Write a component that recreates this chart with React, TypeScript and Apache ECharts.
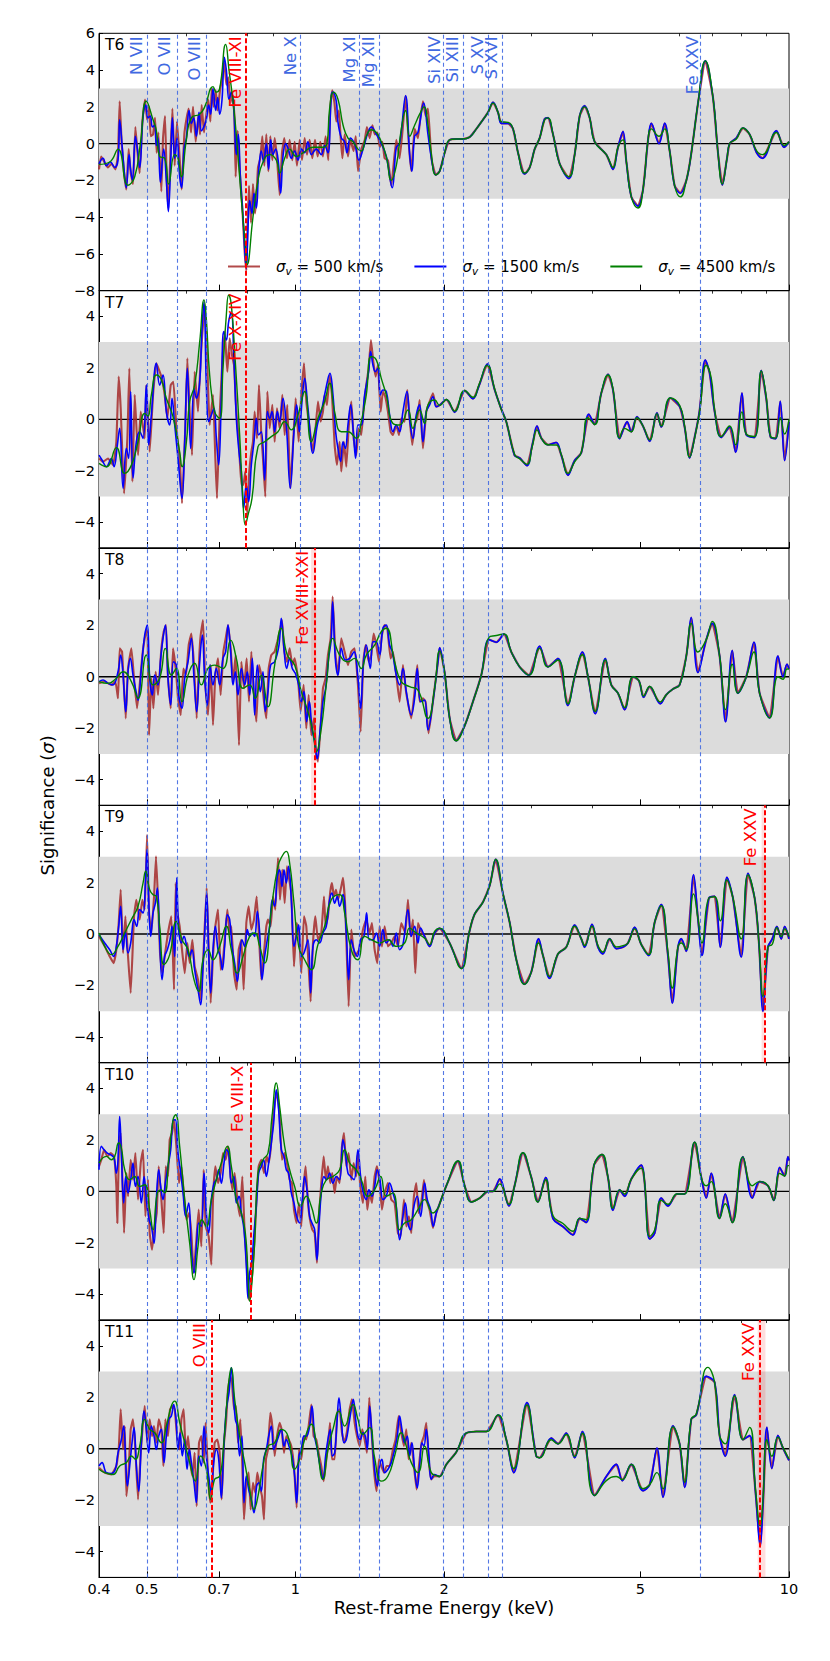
import React, { useEffect, useRef } from 'react';
import * as echarts from 'echarts';

const FONT = 'DejaVu Sans';
const E_MIN = 0.4;
const E_MAX = 10;
const majorTicks = [0.4, 0.5, 0.7, 1, 2, 5, 10];
const minorTicks = [0.6, 0.8, 0.9, 3, 4, 6, 7, 8, 9];
const lineEnergies = [0.5, 0.569, 0.655, 1.022, 1.35, 1.472, 2.004, 2.18, 2.455, 2.62, 6.68];
const lineNames = ['N VII', 'O VII', 'O VIII', 'Ne X', 'Mg XI', 'Mg XII', 'Si XIV', 'Si XIII', 'S XV', 'S XVI', 'Fe XXV'];
const panelNames = ['T6', 'T7', 'T8', 'T9', 'T10', 'T11'];
const yMin = [-8, -5, -5, -5, -5, -5];
const yMax = [6, 5, 5, 5, 5, 5];
const yTicksT6 = [-8, -6, -4, -2, 0, 2, 4, 6];
const yTicksOther = [-4, -2, 0, 2, 4];
const seriesNames = ['σv = 500 km/s', 'σv = 1500 km/s', 'σv = 4500 km/s'];
const redLines: { e: number; name: string; band?: number[] }[][] = [
  [{ e: 0.8015, name: 'Fe VIII-XI' }],
  [{ e: 0.799, name: 'Fe X-XIV' }],
  [{ e: 1.094, name: 'Fe XVIII-XXI', band: [1.076, 1.102] }],
  [{ e: 8.855, name: 'Fe XXV', band: [8.8, 8.92] }],
  [{ e: 0.808, name: 'Fe VIII-X' }],
  [{ e: 0.676, name: 'O VIII' }, { e: 8.75, name: 'Fe XXV', band: [8.64, 8.96] }],
];

// ---------------- T6 ----------------
const t6Green = [[0.4,-1.13],[0.4205,-1.0],[0.4371,-0.3],[0.458,-2.27],[0.4725,-1.8],[0.4851,0.0],[0.4989,2.3],[0.5147,1.3],[0.5227,0.7],[0.5309,-0.7],[0.5434,-0.8],[0.5537,-2.2],[0.5694,-0.6],[0.5783,-0.8],[0.5873,-1.8],[0.6012,0.2],[0.6154,1.4],[0.6398,1.6],[0.6549,2.0],[0.6809,3.1],[0.6915,2.8],[0.7024,3.0],[0.7223,5.4],[0.7336,4.0],[0.7497,2.0],[0.7615,0.0],[0.777,-3.0],[0.7929,-5.8],[0.7978,-6.6],[0.8204,-4.0],[0.8398,-2.0],[0.8596,-1.0],[0.8868,-0.6],[0.9148,-0.9],[0.9291,-1.6],[0.951,-0.8],[0.9734,-0.3],[1.0042,-0.7],[1.0359,-0.5],[1.0853,-0.2],[1.1371,-0.2],[1.1585,0.0],[1.173,1.9],[1.195,2.8],[1.22,2.4],[1.249,1.0],[1.278,0.3],[1.308,0.1],[1.339,-0.3],[1.36,-0.4],[1.392,0.4],[1.425,0.75],[1.459,0.6],[1.493,0.1],[1.528,-0.7],[1.564,-2.0],[1.601,-1.2],[1.639,0.8],[1.672,1.8],[1.704,0.4],[1.744,1.0],[1.785,1.6],[1.822,2.0],[1.856,1.0],[1.886,-0.6],[1.924,-1.7]];
const t6Blue = [[0.4,-1.1],[0.4076,-0.8],[0.414,-1.2],[0.4218,-1.0],[0.4304,-1.3],[0.4371,-0.9],[0.4405,1.3],[0.4461,-0.3],[0.451,-1.8],[0.4544,-2.4],[0.4601,-0.6],[0.463,-1.3],[0.4674,-2.0],[0.474,0.4],[0.4784,-0.3],[0.4836,-1.3],[0.4912,1.5],[0.4973,2.1],[0.5028,1.4],[0.5083,1.5],[0.5131,0.9],[0.5187,1.0],[0.5227,-0.1],[0.5268,0.3],[0.5326,-2.1],[0.5409,-0.3],[0.5477,-2.0],[0.5528,-3.7],[0.5589,-1.0],[0.5633,1.4],[0.5694,-0.8],[0.5756,0.3],[0.5828,-1.8],[0.5883,-2.4],[0.5947,-0.3],[0.6012,0.3],[0.6088,1.8],[0.6154,1.1],[0.6221,1.4],[0.63,0.4],[0.6378,1.7],[0.6448,0.7],[0.6519,0.9],[0.66,1.3],[0.6672,2.1],[0.6735,1.6],[0.6809,3.0],[0.6894,1.8],[0.6958,2.5],[0.7024,1.6],[0.7101,2.4],[0.7178,4.7],[0.7245,4.0],[0.7336,2.4],[0.7416,2.8],[0.7497,2.0],[0.7591,-0.6],[0.7662,0.5],[0.7734,-1.8],[0.7831,-4.0],[0.7904,-6.0],[0.7953,-6.8],[0.8015,-4.6],[0.8078,-3.1],[0.8166,-3.8],[0.8243,-2.7],[0.8333,-3.5],[0.8424,-1.5],[0.8529,-0.4],[0.8623,-1.0],[0.8731,0.0],[0.8827,-1.4],[0.891,0.2],[0.9006,-0.6],[0.9119,-0.3],[0.9234,-1.0],[0.9334,-2.7],[0.9436,-0.7],[0.9554,0.0],[0.9674,-0.3],[0.981,-0.8],[0.9964,-0.4],[1.012,-0.9],[1.0279,-0.3],[1.044,-0.5],[1.0603,0.1],[1.0769,-0.6],[1.1023,-0.3],[1.1283,-0.6],[1.146,-0.1],[1.164,-0.5],[1.1822,2.6],[1.191,2.8],[1.21,2.3],[1.219,1.2],[1.239,0.3],[1.258,0.1],[1.272,-0.5],[1.292,0.3],[1.318,0.0],[1.345,-0.9],[1.371,-0.3],[1.403,0.6],[1.425,0.9],[1.459,0.5],[1.493,0.0],[1.528,-0.7],[1.571,-2.4],[1.601,-0.2],[1.626,0.0],[1.672,2.6],[1.704,-0.6],[1.722,-1.5],[1.744,0.4],[1.771,0.6],[1.819,2.2],[1.856,0.5],[1.886,-0.8],[1.924,-1.7]];
const t6Red = [[0.4,-1.4],[0.404,-0.7],[0.41,-1.0],[0.417,-1.3],[0.424,-1.1],[0.432,-1.4],[0.437,-0.6],[0.4405,2.3],[0.4447,0.0],[0.4496,-1.6],[0.4544,-2.5],[0.4594,-0.3],[0.4638,-1.6],[0.4688,-2.2],[0.474,0.9],[0.4799,-0.8],[0.4836,-1.6],[0.4897,1.2],[0.4958,2.4],[0.5005,1.3],[0.5052,2.0],[0.5091,0.4],[0.5147,0.5],[0.5195,1.4],[0.5235,-0.5],[0.5276,0.6],[0.535,-2.6],[0.5392,0.3],[0.5443,1.5],[0.5485,-1.9],[0.5528,-3.5],[0.558,-0.6],[0.5633,1.9],[0.5694,-1.2],[0.5756,1.2],[0.5828,-0.8],[0.5883,-2.5],[0.5956,0.5],[0.6012,1.3],[0.6078,1.9],[0.6145,0.6],[0.6202,2.0],[0.628,0.1],[0.6358,1.5],[0.6408,0.5],[0.6458,2.1],[0.6529,0.6],[0.66,1.6],[0.6662,2.4],[0.6725,1.2],[0.6767,3.0],[0.683,2.0],[0.6894,2.9],[0.6958,1.8],[0.7035,2.9],[0.7112,3.6],[0.7178,4.4],[0.7245,3.2],[0.7313,3.6],[0.7382,2.2],[0.7451,2.7],[0.752,1.6],[0.7567,-1.8],[0.7638,0.7],[0.771,-1.4],[0.7806,-3.5],[0.7892,-5.9],[0.7953,-6.9],[0.8003,-4.2],[0.8053,-2.3],[0.8128,-4.3],[0.8204,-2.2],[0.8281,-3.8],[0.8333,-3.0],[0.8398,-1.3],[0.8489,-0.8],[0.8569,0.4],[0.865,-1.2],[0.8731,0.5],[0.8813,-1.5],[0.8896,0.4],[0.8978,-0.9],[0.9077,0.3],[0.9177,-0.8],[0.9291,-2.8],[0.9392,-0.5],[0.9495,0.3],[0.9614,-0.8],[0.9734,0.2],[0.9856,-0.9],[0.9964,0.1],[1.0073,-1.2],[1.0199,0.2],[1.0311,-0.9],[1.044,0.3],[1.0554,-0.6],[1.0686,0.2],[1.082,-0.8],[1.0955,0.2],[1.1092,-0.7],[1.1231,0.1],[1.1371,-0.7],[1.1513,0.4],[1.1658,-0.9],[1.1768,2.0],[1.1877,2.9],[1.2,2.2],[1.21,1.2],[1.225,1.8],[1.235,0.3],[1.245,-0.8],[1.258,0.5],[1.278,-0.7],[1.292,0.2],[1.312,-0.4],[1.325,0.4],[1.339,-1.5],[1.36,-0.3],[1.382,0.2],[1.396,0.9],[1.414,0.3],[1.432,1.0],[1.448,0.5],[1.466,0.6],[1.482,-0.2],[1.5,0.1],[1.516,-0.8],[1.54,-0.9],[1.564,-2.3],[1.601,0.2],[1.626,-0.8],[1.652,1.0],[1.672,2.6],[1.699,-0.2],[1.717,-1.5],[1.744,0.8],[1.771,0.3],[1.791,1.4],[1.813,2.3],[1.836,1.5],[1.856,1.9],[1.886,-0.8],[1.924,-1.7]];
const t6HiBlue = [[1.96,-1.5],[2.006,-0.5],[2.053,0.2],[2.118,0.25],[2.185,0.25],[2.254,0.35],[2.326,0.8],[2.399,1.3],[2.456,1.7],[2.514,2.25],[2.573,1.7],[2.613,1.1],[2.696,1.1],[2.76,0.8],[2.825,-0.5],[2.914,-1.65],[2.983,-1.3],[3.053,-0.3],[3.125,0.3],[3.199,1.35],[3.249,1.4],[3.326,0.5],[3.431,-1.1],[3.583,-1.9],[3.679,-0.6],[3.766,1.5],[3.855,2.05],[3.946,1.4],[4.039,0.1],[4.265,-0.6],[4.4,-1.4],[4.504,-0.2],[4.61,0.65],[4.683,-1.0],[4.793,-2.9],[4.944,-3.4],[5.061,-2.5],[5.181,0.2],[5.262,1.1],[5.453,0.0],[5.599,1.1],[5.731,-0.4],[5.866,-2.3],[6.024,-2.7],[6.195,-2.0],[6.341,-0.5],[6.541,2.2],[6.769,4.5],[7.015,2.5],[7.18,-0.5],[7.327,-2.25],[7.489,-0.8],[7.582,0.0],[7.822,0.3],[8.069,0.85],[8.323,0.5],[8.6,-0.5],[8.84,-0.8],[9.43,0.7],[9.77,-0.2],[10,0.1]];
const t6HiGreen = [[1.96,-1.5],[2.006,-0.5],[2.053,0.2],[2.118,0.25],[2.185,0.25],[2.254,0.35],[2.326,0.8],[2.399,1.3],[2.456,1.7],[2.514,2.2],[2.573,1.7],[2.613,1.2],[2.696,1.15],[2.76,0.8],[2.825,-0.5],[2.914,-1.6],[2.983,-1.3],[3.053,-0.3],[3.125,0.3],[3.199,1.3],[3.249,1.4],[3.326,0.5],[3.431,-1.1],[3.583,-1.8],[3.679,-0.6],[3.766,1.5],[3.855,2.0],[3.946,1.4],[4.039,0.1],[4.265,-0.6],[4.4,-1.3],[4.504,-0.2],[4.61,0.2],[4.683,-1.0],[4.793,-2.9],[4.944,-3.5],[5.061,-2.5],[5.181,0.2],[5.262,0.8],[5.453,0.4],[5.599,0.8],[5.731,-0.4],[5.866,-2.3],[6.024,-2.9],[6.195,-2.0],[6.341,-0.5],[6.541,2.2],[6.769,4.5],[7.015,2.5],[7.18,-0.5],[7.327,-2.2],[7.489,-0.8],[7.582,0.0],[7.822,0.25],[8.069,0.85],[8.323,0.5],[8.6,-0.4],[8.84,-0.6],[9.43,0.6],[9.77,-0.1],[10,0.1]];

// ---------------- T7 ----------------
const t7Green = [[0.4,-1.71],[0.414,-1.84],[0.4337,-1.1],[0.451,-2.1],[0.4652,-1.78],[0.4799,-0.87],[0.4951,0.23],[0.5028,0.13],[0.5107,0.95],[0.5228,1.72],[0.5351,1.53],[0.5476,0.82],[0.565,0.1],[0.5828,-1.26],[0.5893,-1.84],[0.6012,-0.9],[0.6106,0.69],[0.625,1.33],[0.6398,3.0],[0.6529,4.64],[0.66,3.9],[0.6703,1.72],[0.6861,0.3],[0.7023,0.04],[0.7133,1.98],[0.7245,4.05],[0.7325,4.83],[0.7416,4.44],[0.7532,2.63],[0.771,-0.61],[0.7831,-3.2],[0.7917,-4.1],[0.8015,-3.72],[0.8166,-3.07],[0.8398,-1.06],[0.8663,-0.87],[0.8937,-0.67],[0.9219,-0.48],[0.951,-0.09],[0.981,-0.41],[1.012,0.17],[1.0439,1.08],[1.0769,-0.87],[1.1109,0.04],[1.146,0.69],[1.173,1.4],[1.2007,0.3],[1.2386,-0.48],[1.2777,-0.48],[1.3284,-0.74],[1.3597,-0.09],[1.3918,0.95],[1.4247,2.44],[1.4583,2.31],[1.4927,1.59],[1.5279,0.95],[1.5761,-0.16],[1.6259,-0.22],[1.6903,0.36],[1.7302,-0.35],[1.7849,0.36],[1.827,-0.16],[1.8556,0.56],[1.9142,0.75]];
const t7Blue = [[0.4,-1.39],[0.4057,-1.58],[0.414,-1.84],[0.4238,-1.52],[0.4291,-1.84],[0.4357,-1.0],[0.4405,-0.35],[0.4475,-2.68],[0.4545,-1.13],[0.4594,-1.52],[0.4637,1.08],[0.4688,-2.29],[0.4762,-0.87],[0.4836,-0.48],[0.4912,-0.74],[0.4989,1.33],[0.5044,-1.0],[0.5107,0.17],[0.5227,2.18],[0.5309,1.33],[0.5392,1.72],[0.5477,0.3],[0.5563,-0.22],[0.5624,0.82],[0.5694,-0.22],[0.5783,-1.52],[0.5892,-3.07],[0.5966,-0.87],[0.604,1.98],[0.6135,-1.13],[0.6231,1.2],[0.6299,0.82],[0.6398,1.46],[0.6468,3.54],[0.6529,4.57],[0.66,1.33],[0.6672,-0.09],[0.6756,0.17],[0.684,0.43],[0.6915,-0.74],[0.6991,-1.77],[0.7078,0.82],[0.7156,3.41],[0.7245,3.08],[0.7325,3.8],[0.7416,4.18],[0.7497,2.63],[0.7591,0.04],[0.7686,-1.26],[0.777,-2.03],[0.7855,-3.46],[0.7953,-2.55],[0.804,-3.2],[0.8141,-1.77],[0.8243,-0.87],[0.8333,0.04],[0.8424,-0.61],[0.853,-0.48],[0.8663,-2.36],[0.8772,0.3],[0.8868,0.04],[0.8965,0.3],[0.9077,-0.48],[0.9191,0.3],[0.929,-0.09],[0.9436,0.82],[0.9584,-0.22],[0.9764,-2.68],[0.9933,-0.48],[1.0057,0.56],[1.0183,-0.48],[1.0311,0.69],[1.0439,1.59],[1.0603,0.43],[1.0853,-1.32],[1.1075,-0.22],[1.1283,0.3],[1.1496,1.08],[1.1748,1.79],[1.1914,0.95],[1.2063,-0.48],[1.2195,-1.13],[1.2348,-1.64],[1.2484,-0.87],[1.2623,-1.13],[1.2777,-0.22],[1.2938,0.56],[1.31,-0.48],[1.3243,-1.52],[1.3388,-0.22],[1.3597,-0.22],[1.381,0.95],[1.4071,1.85],[1.4203,2.63],[1.4359,2.11],[1.4515,1.85],[1.4697,1.98],[1.4858,0.95],[1.5043,1.14],[1.5279,1.08],[1.5518,0.17],[1.5761,-0.48],[1.6008,-0.22],[1.6259,-0.48],[1.6514,0.3],[1.6826,1.08],[1.7035,0.04],[1.7302,-0.74],[1.7573,0.17],[1.7849,0.56],[1.8128,-0.87],[1.8413,0.3],[1.8701,0.56],[1.8994,0.88],[1.9292,0.49]];
const t7Red = [[0.4,-1.52],[0.4076,-1.65],[0.4172,-1.52],[0.4271,-1.77],[0.4337,-0.87],[0.4385,1.66],[0.4426,0.43],[0.4496,-2.88],[0.4566,-0.74],[0.4608,1.98],[0.4674,-2.42],[0.4725,0.95],[0.4799,-1.39],[0.4859,0.3],[0.4951,-0.74],[0.4989,1.33],[0.5067,-1.26],[0.5147,0.95],[0.5227,2.18],[0.5351,1.66],[0.5434,0.95],[0.5502,0.04],[0.5589,1.33],[0.5659,1.46],[0.5739,-0.35],[0.5828,-1.52],[0.5892,-3.26],[0.5985,-0.22],[0.604,2.37],[0.6106,0.3],[0.6173,-1.39],[0.625,1.85],[0.6348,0.3],[0.6428,2.37],[0.6498,3.67],[0.6549,4.44],[0.663,2.11],[0.6703,-0.22],[0.6808,0.95],[0.6883,-1.52],[0.6936,-3.07],[0.7023,0.17],[0.7112,2.24],[0.7189,3.41],[0.7279,1.85],[0.7359,3.15],[0.7439,2.5],[0.7509,2.11],[0.7591,0.3],[0.7674,-0.74],[0.777,-2.55],[0.7843,-2.55],[0.7917,-2.03],[0.799,-3.72],[0.8053,-2.16],[0.8141,-1.26],[0.8204,-0.87],[0.8268,0.3],[0.8359,-0.74],[0.8437,1.33],[0.853,-0.61],[0.8596,-1.52],[0.8689,-3.01],[0.8772,1.08],[0.8868,-0.35],[0.8979,0.56],[0.9077,-0.87],[0.9176,0.43],[0.929,-0.35],[0.9407,0.95],[0.951,-0.61],[0.9629,0.56],[0.9764,-2.68],[0.9887,-1.0],[1.0011,0.82],[1.0152,-0.87],[1.0278,0.95],[1.0407,2.18],[1.0521,0.69],[1.0686,-0.35],[1.0853,-1.26],[1.0972,-0.48],[1.1109,0.69],[1.1248,-0.09],[1.1371,0.3],[1.146,0.95],[1.1585,0.56],[1.173,1.72],[1.1859,0.95],[1.2007,-1.0],[1.2138,-1.77],[1.229,-0.87],[1.2386,-2.03],[1.2541,-0.87],[1.2679,-1.84],[1.2818,-0.35],[1.2978,0.69],[1.3121,-0.74],[1.3284,-1.39],[1.343,-0.35],[1.3597,-0.61],[1.3767,0.56],[1.3918,1.33],[1.4071,1.98],[1.4225,3.08],[1.4381,2.24],[1.4538,1.66],[1.4697,2.11],[1.4881,0.3],[1.5043,1.08],[1.5208,0.88],[1.5398,0.3],[1.5591,-0.48],[1.5761,-0.61],[1.6008,-0.22],[1.6208,-0.61],[1.6386,0.04],[1.6643,-0.09],[1.6851,1.14],[1.7035,0.04],[1.7248,-1.0],[1.7437,-0.22],[1.7655,0.04],[1.7849,0.75],[1.8128,-1.13],[1.8413,0.3],[1.8701,0.69],[1.8994,1.01],[1.9292,0.49]];
const t7HiBlue = [[1.96,0.55],[2.022,0.77],[2.102,0.28],[2.202,1.12],[2.29,0.8],[2.354,1.3],[2.448,2.15],[2.533,1.15],[2.613,0.4],[2.675,-0.1],[2.78,-1.4],[2.846,-1.5],[2.945,-1.8],[3.019,-1.0],[3.086,-0.26],[3.149,-0.73],[3.248,-0.99],[3.377,-0.9],[3.457,-1.4],[3.566,-2.17],[3.679,-1.6],[3.795,-1.3],[3.93,0.2],[4.038,-0.2],[4.166,1.02],[4.298,1.75],[4.399,1.15],[4.538,-0.75],[4.645,-0.26],[4.7,-0.1],[4.792,-0.48],[4.92,0.1],[5.06,-0.26],[5.22,-0.85],[5.401,0.25],[5.511,-0.3],[5.747,0.83],[6.003,0.5],[6.145,-0.3],[6.29,-1.5],[6.438,-0.7],[6.59,0.35],[6.766,2.3],[6.905,1.8],[7.068,0.3],[7.291,-0.7],[7.58,-0.3],[7.795,-1.28],[8.029,1.02],[8.193,-0.6],[8.518,-0.7],[8.787,1.9],[8.994,0.8],[9.178,-0.7],[9.395,-0.75],[9.601,0.7],[9.798,-1.6],[10,-0.1]];
const t7HiGreen = [[1.96,0.54],[2.022,0.77],[2.102,0.32],[2.202,1.12],[2.29,0.86],[2.354,1.34],[2.448,2.1],[2.533,1.18],[2.613,0.38],[2.675,-0.1],[2.78,-1.37],[2.846,-1.53],[2.945,-1.75],[3.019,-1.05],[3.086,-0.41],[3.149,-0.73],[3.248,-0.99],[3.377,-1.0],[3.457,-1.37],[3.566,-2.1],[3.679,-1.65],[3.795,-1.28],[3.915,0.06],[4.038,-0.2],[4.166,1.02],[4.298,1.72],[4.399,1.18],[4.538,-0.73],[4.645,-0.35],[4.792,-0.48],[4.92,0.06],[5.06,-0.26],[5.22,-0.8],[5.401,0.22],[5.511,-0.26],[5.747,0.83],[6.003,0.54],[6.145,-0.26],[6.29,-1.47],[6.438,-0.73],[6.59,0.29],[6.798,2.1],[6.958,1.6],[7.068,0.38],[7.291,-0.67],[7.58,-0.26],[7.795,-0.99],[8.029,0.29],[8.193,-0.57],[8.518,-0.67],[8.787,1.88],[8.994,0.86],[9.178,-0.67],[9.395,-0.73],[9.601,0.06],[9.798,-0.57],[10,0.0]];

// ---------------- T8 ----------------
const t8Green = [[0.4,-0.19],[0.4172,-0.26],[0.4337,-0.06],[0.4475,0.19],[0.4652,-0.19],[0.4799,-0.84],[0.4989,0.84],[0.5147,-0.32],[0.5309,-0.06],[0.5451,1.1],[0.5606,0.06],[0.5739,0.32],[0.5892,-0.97],[0.6059,0.06],[0.625,0.52],[0.6448,-0.32],[0.6651,0.32],[0.6861,0.45],[0.7133,0.32],[0.7393,1.42],[0.7591,0.71],[0.7831,-0.45],[0.8078,-0.32],[0.8294,-0.84],[0.853,0.06],[0.8799,-1.17],[0.9077,0.45],[0.9363,1.88],[0.9629,0.84],[0.9964,0.45],[1.0278,-0.58],[1.0603,-1.36],[1.0853,-2.14],[1.1023,-2.91],[1.1283,-2.01],[1.1549,-0.32],[1.1914,1.49],[1.229,0.84],[1.2777,0.58],[1.3181,0.71],[1.3597,0.32],[1.3918,0.84],[1.447,1.23],[1.4927,1.75],[1.5279,1.88],[1.5884,0.58],[1.6386,-0.19],[1.7035,-0.39],[1.771,-0.52],[1.8556,-1.62],[1.9142,-0.45]];
const t8Blue = [[0.4,-0.19],[0.4076,-0.13],[0.4172,-0.26],[0.4271,-0.32],[0.4371,0.19],[0.4426,0.84],[0.4475,0.06],[0.4531,-1.36],[0.458,0.19],[0.463,0.71],[0.4688,0.06],[0.474,-0.45],[0.4799,-0.91],[0.4874,0.32],[0.4951,1.62],[0.5012,2.01],[0.5067,-0.06],[0.5131,-0.71],[0.5187,0.06],[0.5268,-0.32],[0.5334,0.71],[0.5392,1.49],[0.5451,2.01],[0.5519,-0.06],[0.5589,-1.1],[0.5659,0.58],[0.5739,0.45],[0.5801,-0.71],[0.5892,-1.23],[0.5966,-0.06],[0.6059,0.58],[0.6154,1.49],[0.6231,-0.06],[0.6309,-1.36],[0.6398,0.58],[0.6478,1.62],[0.6549,-0.06],[0.663,-1.1],[0.6714,0.45],[0.6808,-0.32],[0.6915,0.32],[0.7023,-0.32],[0.7133,0.71],[0.7223,0.97],[0.7302,2.01],[0.7393,0.97],[0.7474,-0.32],[0.7556,0.19],[0.765,-0.71],[0.777,0.32],[0.7892,-0.32],[0.799,0.19],[0.8078,-0.71],[0.8179,0.71],[0.8268,-1.49],[0.8372,0.45],[0.8489,-0.58],[0.8596,0.19],[0.8689,-1.36],[0.8799,-0.58],[0.8909,0.45],[0.9077,0.58],[0.9262,1.23],[0.9363,2.27],[0.948,1.1],[0.9599,0.32],[0.9734,0.71],[0.9856,0.32],[0.9995,0.13],[1.0152,-0.32],[1.0278,-0.97],[1.0407,-0.58],[1.0537,-1.75],[1.0669,-0.97],[1.0803,-2.01],[1.0938,-2.53],[1.1075,-3.19],[1.1214,-2.14],[1.1371,-0.97],[1.1514,-0.45],[1.1676,0.71],[1.1822,1.49],[1.1896,2.91],[1.2044,0.71],[1.2195,0.06],[1.2386,1.1],[1.2623,0.65],[1.2881,0.71],[1.3141,0.97],[1.3388,-0.06],[1.3555,-1.23],[1.3725,0.45],[1.3918,1.23],[1.4181,0.32],[1.4359,1.36],[1.4583,1.36],[1.4812,0.84],[1.5043,1.88],[1.5279,2.01],[1.5518,1.23],[1.5712,0.97],[1.6008,0.06],[1.6259,-0.32],[1.6514,0.32],[1.6773,-0.58],[1.7168,-1.49],[1.7437,-0.84],[1.7655,0.32],[1.7932,-0.97],[1.827,-0.91],[1.8556,-2.07],[1.8994,-0.97],[1.9442,0.58]];
const t8Red = [[0.4,-0.26],[0.4108,-0.19],[0.4238,-0.32],[0.4317,-0.19],[0.4371,-0.84],[0.4405,1.1],[0.4454,0.97],[0.4531,-1.62],[0.458,0.32],[0.4652,1.1],[0.471,-0.06],[0.4777,-1.23],[0.4836,-0.32],[0.4897,0.84],[0.4951,1.49],[0.5012,1.88],[0.5052,-2.27],[0.5107,-0.06],[0.5155,-1.23],[0.5211,0.19],[0.5268,-0.71],[0.5351,1.1],[0.5409,1.75],[0.5468,2.01],[0.5519,-0.06],[0.5589,-1.23],[0.565,1.1],[0.573,0.19],[0.5783,-0.84],[0.5856,-1.49],[0.5929,0.32],[0.6003,0.06],[0.6078,1.23],[0.6154,1.68],[0.6231,0.45],[0.6309,-1.62],[0.6388,0.84],[0.6428,1.62],[0.6498,2.2],[0.6569,-0.32],[0.6651,-1.49],[0.6735,0.45],[0.6808,-1.88],[0.6883,0.06],[0.6969,0.71],[0.7056,-0.71],[0.7145,0.97],[0.7223,1.49],[0.7302,2.01],[0.7393,1.1],[0.7474,-0.19],[0.7567,0.84],[0.7686,-2.66],[0.777,0.58],[0.7867,-0.45],[0.7965,0.71],[0.8053,-0.97],[0.8141,0.97],[0.8243,-0.71],[0.8333,-1.75],[0.8437,0.45],[0.853,0.06],[0.8636,-0.97],[0.873,-1.62],[0.8827,0.32],[0.8937,0.84],[0.9077,0.97],[0.9191,1.36],[0.929,1.75],[0.9392,2.2],[0.9495,0.97],[0.9614,0.58],[0.9734,1.1],[0.9856,0.45],[0.9964,0.71],[1.012,-0.06],[1.0246,-1.36],[1.0391,-0.32],[1.0521,-2.01],[1.0636,-0.71],[1.0769,-2.27],[1.0904,-1.62],[1.1023,-3.04],[1.1109,-3.3],[1.1248,-1.88],[1.1371,-0.45],[1.1514,-0.06],[1.1639,0.84],[1.1785,1.49],[1.1896,3.11],[1.2044,0.97],[1.2195,0.06],[1.2386,1.49],[1.258,0.97],[1.2777,0.45],[1.2978,0.97],[1.3181,1.1],[1.3388,-0.32],[1.3555,-2.14],[1.3725,0.58],[1.3875,1.23],[1.4071,0.58],[1.4247,0.84],[1.4404,1.68],[1.4583,1.23],[1.4766,0.58],[1.4973,1.62],[1.5161,2.01],[1.535,1.88],[1.5591,0.71],[1.5761,0.97],[1.6008,0.06],[1.6259,-0.97],[1.6514,0.45],[1.6773,-0.65],[1.7168,-1.62],[1.7437,-0.58],[1.7655,0.45],[1.7849,-0.97],[1.8128,-0.84],[1.8355,-0.97],[1.8613,-2.2],[1.8994,-0.97],[1.9442,0.58]];
const t8HiBlue = [[1.96,1.12],[2.006,0.16],[2.053,-1.6],[2.118,-2.49],[2.202,-1.91],[2.29,-0.96],[2.38,0.06],[2.467,1.44],[2.553,1.34],[2.646,1.66],[2.738,0.96],[2.846,0.38],[2.973,0.06],[3.125,1.18],[3.248,0.38],[3.404,0.7],[3.566,-1.12],[3.679,0.0],[3.813,0.96],[3.915,0.0],[4.051,-1.44],[4.245,0.7],[4.365,-0.32],[4.503,-0.64],[4.645,-1.28],[4.83,0.0],[4.966,-0.16],[5.075,-0.8],[5.22,-0.38],[5.486,-1.05],[5.642,-0.7],[5.82,-0.48],[6.003,-0.32],[6.193,0.8],[6.338,2.3],[6.539,0.16],[6.798,1.44],[6.991,2.07],[7.235,0.8],[7.44,-1.75],[7.675,1.02],[7.88,-0.64],[8.193,0.0],[8.49,1.34],[8.718,-0.64],[9.134,-1.6],[9.497,0.8],[9.72,0.0],[9.907,0.48],[10,0.3]];
const t8HiGreen = [[1.96,1.0],[2.006,0.16],[2.053,-1.6],[2.118,-2.49],[2.202,-1.91],[2.29,-0.96],[2.38,0.06],[2.467,1.53],[2.553,1.6],[2.646,1.66],[2.738,0.96],[2.846,0.38],[2.973,0.06],[3.125,1.1],[3.248,0.38],[3.404,0.65],[3.566,-1.05],[3.679,0.0],[3.813,0.85],[3.915,0.0],[4.051,-1.35],[4.245,0.65],[4.365,-0.32],[4.503,-0.64],[4.645,-1.2],[4.83,0.0],[4.966,-0.16],[5.075,-0.75],[5.22,-0.38],[5.486,-0.98],[5.642,-0.7],[5.82,-0.48],[6.003,-0.32],[6.193,0.8],[6.338,2.07],[6.539,0.96],[6.798,1.44],[6.991,2.15],[7.235,0.8],[7.44,-1.28],[7.675,0.48],[7.88,-0.64],[8.193,0.0],[8.49,0.96],[8.718,-0.64],[9.134,-1.6],[9.497,0.0],[9.72,-0.1],[9.907,0.3],[10,0.3]];

// ---------------- T9 ----------------
const t9Green = [[0.4,0.04],[0.4108,-0.48],[0.4238,-0.8],[0.4371,-0.48],[0.451,0.04],[0.4652,0.56],[0.4799,1.08],[0.4912,1.98],[0.4973,2.44],[0.5067,1.72],[0.5147,1.53],[0.5227,1.46],[0.5309,0.3],[0.5418,-1.19],[0.5563,-0.8],[0.5739,0.49],[0.5892,-0.22],[0.6059,-0.61],[0.6231,-1.77],[0.6368,-2.23],[0.6498,-1.0],[0.6651,-0.61],[0.6808,-1.0],[0.7023,-0.48],[0.7245,0.3],[0.7416,-0.61],[0.7627,-1.52],[0.7831,-0.87],[0.8078,-0.09],[0.8268,0.04],[0.8464,-0.48],[0.8663,-1.13],[0.8937,0.95],[0.9219,2.63],[0.9436,3.08],[0.9584,3.21],[0.9734,2.76],[0.9918,1.33],[1.0152,-0.48],[1.0439,-1.0],[1.0769,-1.39],[1.1109,-0.41],[1.146,0.3],[1.1822,1.33],[1.229,1.53],[1.258,0.82],[1.2978,-0.61],[1.3388,-1.0],[1.381,-0.09],[1.4247,-0.22],[1.4812,-0.35],[1.5398,-0.22],[1.6008,-0.48],[1.6643,-0.35],[1.7035,0.23],[1.7573,0.04],[1.827,-0.16],[1.8701,-0.41],[1.9142,0.1]];
const t9Blue = [[0.4,-0.03],[0.4108,-0.35],[0.4205,-0.61],[0.4284,-0.87],[0.4337,-0.48],[0.4385,0.3],[0.4426,1.08],[0.4475,-0.61],[0.4524,0.1],[0.458,-0.74],[0.4637,-0.35],[0.471,0.56],[0.4769,0.3],[0.4836,0.95],[0.4912,0.82],[0.4966,1.98],[0.5005,3.28],[0.5044,1.33],[0.5091,-0.09],[0.5147,0.82],[0.5203,1.2],[0.5252,1.79],[0.5309,-0.22],[0.5367,-1.77],[0.5434,-0.87],[0.5502,-0.61],[0.5571,-0.22],[0.5624,0.3],[0.5694,-0.87],[0.5748,2.18],[0.5801,0.17],[0.5874,-0.35],[0.5947,-0.09],[0.6022,-0.48],[0.6097,-0.87],[0.6173,-0.61],[0.625,-1.39],[0.6348,-2.16],[0.6428,-2.75],[0.6498,-1.26],[0.6549,0.04],[0.661,1.59],[0.6672,-0.74],[0.6735,-2.29],[0.6808,-0.61],[0.6883,0.3],[0.6969,-0.61],[0.7045,-0.87],[0.7112,-1.39],[0.7189,-0.48],[0.7279,0.75],[0.7359,0.56],[0.7439,-0.48],[0.7532,-1.13],[0.7627,-1.84],[0.771,-0.87],[0.7794,-0.22],[0.7892,-0.48],[0.799,0.17],[0.8078,-0.09],[0.8179,0.04],[0.8268,-0.09],[0.8372,0.88],[0.8464,0.04],[0.8556,-1.77],[0.8663,-0.87],[0.8772,-0.22],[0.8868,0.3],[0.8979,1.33],[0.9077,1.08],[0.9191,2.24],[0.929,2.5],[0.9392,1.85],[0.948,2.5],[0.9584,1.98],[0.9689,2.63],[0.981,1.33],[0.9933,-0.48],[1.0042,-0.09],[1.0152,0.36],[1.0278,-0.87],[1.0407,-0.74],[1.0603,-0.22],[1.0736,-2.29],[1.0853,-0.48],[1.1023,-0.22],[1.1196,-0.35],[1.1371,0.04],[1.1549,0.3],[1.173,1.33],[1.1859,1.59],[1.2007,1.2],[1.2157,1.46],[1.229,1.08],[1.2484,1.53],[1.2679,0.04],[1.2818,-1.77],[1.2978,-0.22],[1.3141,-0.61],[1.3347,-0.87],[1.3555,-0.22],[1.3767,-0.09],[1.394,0.82],[1.4114,-0.22],[1.4359,-0.22],[1.4583,0.04],[1.4812,-0.48],[1.5043,0.17],[1.5279,-0.35],[1.5518,-0.22],[1.5761,-0.48],[1.6008,0.04],[1.6259,-0.61],[1.6514,-0.41],[1.6903,0.95],[1.7168,-0.09],[1.7437,0.3],[1.771,-0.35],[1.7932,0.23],[1.827,-0.09],[1.8701,-0.48],[1.9142,0.04]];
const t9Red = [[0.4,-0.09],[0.4108,-0.48],[0.4205,-0.87],[0.4284,-1.13],[0.4337,-0.61],[0.4385,0.43],[0.4426,1.72],[0.4475,-0.74],[0.4524,0.69],[0.458,-0.87],[0.4637,-2.29],[0.471,0.69],[0.4762,1.33],[0.4836,0.56],[0.4897,1.33],[0.4951,0.95],[0.5005,3.86],[0.5052,0.82],[0.5107,0.04],[0.5171,1.46],[0.5219,3.02],[0.5268,1.33],[0.5317,-0.74],[0.5376,-1.52],[0.5434,-0.87],[0.5519,0.04],[0.5606,0.69],[0.5676,-2.16],[0.5721,1.98],[0.5765,0.82],[0.5828,0.3],[0.5892,-0.61],[0.5966,-1.52],[0.604,-0.35],[0.6106,-1.13],[0.6183,-0.22],[0.625,-1.26],[0.6348,-1.77],[0.6428,-2.55],[0.6508,-0.87],[0.661,1.79],[0.6672,-0.48],[0.6735,-2.68],[0.6808,-0.87],[0.6883,0.3],[0.6969,0.95],[0.7056,-1.39],[0.7133,-1.0],[0.7212,0.1],[0.7279,0.95],[0.7359,0.04],[0.7416,0.3],[0.7509,-1.52],[0.7603,-2.16],[0.7674,-0.61],[0.777,-0.22],[0.7855,-2.16],[0.7953,0.43],[0.804,1.08],[0.8141,0.17],[0.8243,0.56],[0.8346,1.46],[0.8437,-0.09],[0.853,-1.77],[0.8636,-0.74],[0.873,0.3],[0.8799,0.56],[0.8909,0.3],[0.9007,1.46],[0.9105,0.95],[0.9219,2.95],[0.9305,1.33],[0.9407,2.5],[0.951,1.2],[0.9614,2.63],[0.9704,2.18],[0.981,1.59],[0.9933,-1.26],[1.0057,0.43],[1.0168,0.04],[1.0278,-1.52],[1.0407,0.69],[1.0521,0.3],[1.0636,-1.26],[1.0736,-2.62],[1.0853,-0.35],[1.0972,0.69],[1.1109,-0.22],[1.1283,0.04],[1.1425,1.46],[1.1514,0.3],[1.1639,0.69],[1.1767,1.66],[1.1859,1.98],[1.197,1.46],[1.2082,1.72],[1.2195,1.33],[1.2348,1.72],[1.2484,2.18],[1.2623,0.95],[1.2818,-2.81],[1.2978,0.17],[1.3181,-0.87],[1.3347,-0.74],[1.3534,-0.48],[1.3703,0.17],[1.3918,0.56],[1.4137,0.04],[1.4292,0.43],[1.447,-0.61],[1.4651,-1.13],[1.4812,0.3],[1.4973,-0.48],[1.5161,0.3],[1.5398,-0.48],[1.5639,-0.35],[1.5884,-0.09],[1.6133,-0.48],[1.6386,0.43],[1.6695,0.04],[1.6903,1.33],[1.7115,-0.09],[1.7302,0.56],[1.7491,-1.52],[1.771,0.43],[1.7988,0.1],[1.827,-0.09],[1.8701,-0.48],[1.9142,0.04]];
const t9HiBlue = [[1.96,0.22],[2.053,-0.35],[2.168,-1.34],[2.254,0.13],[2.307,0.77],[2.399,1.24],[2.475,1.88],[2.545,2.9],[2.634,1.56],[2.717,0.45],[2.802,-0.99],[2.913,-1.95],[3.006,-1.47],[3.11,-0.19],[3.173,-0.83],[3.274,-1.72],[3.404,-0.77],[3.538,-0.51],[3.679,0.35],[3.795,-0.19],[3.855,-0.51],[3.989,0.38],[4.102,-0.51],[4.198,-0.77],[4.331,-0.19],[4.468,-0.57],[4.61,-0.51],[4.718,-0.35],[4.867,0.26],[5.021,-0.41],[5.196,-0.83],[5.343,0.45],[5.511,1.15],[5.685,-0.83],[5.801,-2.68],[5.957,-0.51],[6.05,-0.19],[6.193,-0.67],[6.407,2.3],[6.539,0.61],[6.662,-0.83],[6.883,1.4],[7.068,1.47],[7.257,-0.51],[7.486,2.2],[7.699,1.4],[8.004,-0.89],[8.257,2.36],[8.518,1.4],[8.691,-0.35],[8.855,-3.0],[9.064,-0.51],[9.249,-0.19],[9.452,0.29],[9.645,-0.19],[9.8,0.29],[10,-0.19]];
const t9HiGreen = [[1.96,0.22],[2.053,-0.35],[2.168,-1.34],[2.254,0.13],[2.307,0.77],[2.399,1.24],[2.475,1.88],[2.545,2.9],[2.634,1.56],[2.717,0.45],[2.802,-0.99],[2.913,-1.95],[3.006,-1.47],[3.11,-0.35],[3.173,-0.83],[3.274,-1.65],[3.404,-0.77],[3.538,-0.51],[3.679,0.3],[3.795,-0.19],[3.855,-0.45],[3.989,0.3],[4.102,-0.45],[4.198,-0.7],[4.331,-0.19],[4.468,-0.5],[4.61,-0.45],[4.718,-0.35],[4.867,0.2],[5.021,-0.41],[5.196,-0.8],[5.343,0.45],[5.511,1.1],[5.685,-0.7],[5.801,-2.1],[5.957,-0.51],[6.05,-0.35],[6.193,-0.6],[6.407,1.56],[6.539,0.61],[6.662,-0.35],[6.883,1.4],[7.068,1.45],[7.257,0.51],[7.486,2.1],[7.699,1.4],[8.004,-0.19],[8.257,2.3],[8.518,1.4],[8.691,-0.35],[8.855,-2.42],[9.064,-0.51],[9.249,-0.4],[9.452,0.25],[9.645,-0.1],[9.8,0.2],[10,-0.1]];

// ---------------- T10 ----------------
const t10Green = [[0.4,1.1],[0.414,1.36],[0.4238,1.23],[0.4304,1.36],[0.4385,1.88],[0.444,1.68],[0.451,0.84],[0.4616,0.45],[0.4725,0.58],[0.4836,0.19],[0.4951,0.26],[0.5067,-0.71],[0.5147,-1.49],[0.5252,-0.06],[0.5351,0.06],[0.5434,-0.06],[0.5536,1.23],[0.565,2.78],[0.5721,2.98],[0.5828,1.75],[0.5966,-0.32],[0.6106,-2.01],[0.6231,-3.43],[0.6348,-2.14],[0.6468,-1.1],[0.66,-1.36],[0.6756,-0.32],[0.6915,0.45],[0.7078,1.1],[0.7279,1.75],[0.7416,0.97],[0.7591,-0.32],[0.777,-0.84],[0.7917,-1.62],[0.8015,-3.17],[0.8078,-4.27],[0.8141,-3.82],[0.8268,-2.01],[0.8398,0.71],[0.8596,1.23],[0.8799,1.49],[0.8965,2.91],[0.9148,4.21],[0.929,3.3],[0.951,1.75],[0.9734,0.84],[0.9964,0.19],[1.0246,-0.58],[1.0521,-0.19],[1.0769,-0.58],[1.1023,-1.23],[1.1283,-0.06],[1.1549,0.45],[1.1914,0.58],[1.229,0.84],[1.258,1.62],[1.2881,1.1],[1.3284,0.84],[1.3597,0.45],[1.4027,-0.19],[1.447,0.06],[1.4881,0.58],[1.5279,-0.19],[1.5761,-0.06],[1.6259,-1.49],[1.6643,-1.23],[1.7168,-1.1],[1.771,-0.71],[1.827,-0.32],[1.8994,-0.84],[1.9442,-0.65]];
const t10Blue = [[0.4,0.84],[0.4044,1.75],[0.4095,1.62],[0.4159,1.49],[0.4225,1.42],[0.4291,1.3],[0.4337,0.71],[0.4371,1.23],[0.4405,2.91],[0.444,1.49],[0.4489,-0.45],[0.4531,0.58],[0.458,-0.06],[0.4637,0.45],[0.4688,1.1],[0.474,0.19],[0.4799,0.58],[0.4874,-0.45],[0.4935,0.58],[0.4989,-0.32],[0.5052,-1.1],[0.5107,-1.36],[0.5171,-2.01],[0.5227,-0.32],[0.5285,0.84],[0.5334,0.19],[0.5392,-0.32],[0.5451,0.32],[0.5519,0.97],[0.5589,1.62],[0.5659,2.78],[0.5712,2.78],[0.5783,1.49],[0.5856,0.71],[0.592,-0.06],[0.5994,-0.97],[0.6078,-0.45],[0.6154,-2.27],[0.6231,-3.17],[0.6309,-2.01],[0.6368,-1.23],[0.6448,-1.36],[0.6529,0.71],[0.66,-0.84],[0.6672,-1.62],[0.6756,-0.32],[0.684,0.32],[0.6915,0.45],[0.6991,0.84],[0.7078,0.32],[0.7167,1.1],[0.7245,1.62],[0.7325,1.49],[0.7416,0.32],[0.7509,0.58],[0.7591,-0.45],[0.7686,-0.19],[0.777,-0.84],[0.7867,-1.49],[0.7953,-2.91],[0.8015,-4.15],[0.8078,-3.17],[0.8166,-2.66],[0.8243,-1.62],[0.8333,-0.58],[0.8424,0.71],[0.853,0.97],[0.8623,1.23],[0.873,0.58],[0.8827,1.1],[0.8937,1.88],[0.9035,2.66],[0.9148,3.95],[0.9247,3.17],[0.9363,1.62],[0.948,1.36],[0.9584,0.84],[0.9689,0.71],[0.981,-0.06],[0.9933,-0.45],[1.0057,-0.97],[1.0199,-1.23],[1.0327,-0.32],[1.0439,0.58],[1.057,-0.06],[1.0686,-0.97],[1.0803,-1.23],[1.0938,-1.49],[1.1058,-2.66],[1.1161,-1.36],[1.1283,-0.06],[1.1425,0.58],[1.1567,0.45],[1.173,0.71],[1.1914,0.32],[1.2101,0.58],[1.229,0.45],[1.2484,2.01],[1.2623,1.49],[1.2777,0.71],[1.2938,0.58],[1.3141,0.45],[1.3388,1.62],[1.3555,0.58],[1.3725,-0.06],[1.3918,-0.32],[1.4092,0.06],[1.4292,-0.19],[1.447,0.19],[1.4651,0.84],[1.4835,0.45],[1.5043,-0.32],[1.5279,-0.19],[1.5518,0.32],[1.5761,-0.06],[1.6008,-0.58],[1.6259,-1.88],[1.6514,-0.97],[1.6695,-0.45],[1.6903,-1.23],[1.7115,-1.49],[1.7383,-0.58],[1.7655,-0.19],[1.7932,-0.97],[1.827,0.32],[1.85,-0.32],[1.8788,-0.71],[1.9023,-1.36],[1.9292,-0.84]];
const t10Red = [[0.4,0.97],[0.4044,1.23],[0.4095,1.62],[0.4159,1.36],[0.4225,1.49],[0.4291,1.36],[0.4337,0.19],[0.4357,-1.23],[0.4392,1.88],[0.4426,2.27],[0.4454,0.97],[0.4496,-1.62],[0.4545,0.71],[0.458,-0.19],[0.4637,1.23],[0.4688,0.45],[0.474,1.49],[0.4799,-0.32],[0.4859,1.1],[0.4912,1.62],[0.4966,-0.97],[0.5028,0.45],[0.5067,-1.62],[0.5123,-2.27],[0.5187,-1.36],[0.5236,-0.84],[0.5285,0.97],[0.5351,-0.32],[0.5409,-1.62],[0.546,0.97],[0.5519,0.58],[0.5563,2.01],[0.5624,2.27],[0.5676,2.78],[0.5739,1.75],[0.581,0.32],[0.5874,0.97],[0.5947,-0.19],[0.6012,-1.1],[0.6088,-0.84],[0.6154,-1.62],[0.6221,-3.17],[0.6299,-1.88],[0.6368,-0.71],[0.6448,-2.14],[0.6519,0.84],[0.658,-1.36],[0.6672,-1.75],[0.6756,-2.85],[0.6808,-0.32],[0.6883,0.97],[0.6969,0.32],[0.7056,0.71],[0.7133,1.49],[0.7223,1.23],[0.7302,1.75],[0.7382,0.71],[0.7451,0.06],[0.7532,0.71],[0.7627,-0.32],[0.7722,-0.97],[0.7806,0.58],[0.7892,-1.62],[0.7965,-2.66],[0.804,-4.21],[0.8103,-3.82],[0.8179,-3.17],[0.8268,-1.75],[0.8346,-0.19],[0.8424,0.97],[0.853,1.23],[0.8636,0.71],[0.8744,1.36],[0.8827,1.1],[0.8909,1.62],[0.9007,2.78],[0.9105,3.56],[0.9191,3.82],[0.929,2.91],[0.9392,1.23],[0.951,1.49],[0.9614,1.1],[0.9734,0.45],[0.9841,0.32],[0.9933,-0.71],[1.0057,-1.23],[1.0168,-0.45],[1.0278,-1.36],[1.0391,0.19],[1.0488,0.97],[1.0603,-0.45],[1.0703,-1.1],[1.082,-1.49],[1.0938,-1.62],[1.1058,-2.78],[1.1161,-0.97],[1.1283,0.32],[1.1407,1.36],[1.1531,0.45],[1.1639,0.97],[1.1767,0.32],[1.1877,0.71],[1.2007,-0.06],[1.2138,0.58],[1.229,0.32],[1.2425,1.75],[1.2541,2.27],[1.2679,0.97],[1.2818,1.49],[1.2978,0.45],[1.3121,1.1],[1.3284,0.58],[1.3388,1.49],[1.3534,0.19],[1.3703,-0.45],[1.3853,0.58],[1.3983,-0.71],[1.4137,-0.06],[1.4292,-0.45],[1.447,0.58],[1.4628,0.97],[1.4812,0.32],[1.4973,-0.71],[1.5161,-0.06],[1.5398,0.32],[1.5639,-0.32],[1.5884,-0.45],[1.6133,-1.62],[1.6335,-1.75],[1.6592,-0.32],[1.6773,-1.36],[1.6982,-0.97],[1.7168,-1.62],[1.7383,-0.19],[1.7573,0.32],[1.7766,-0.84],[1.7988,-0.45],[1.8213,0.45],[1.8413,-0.32],[1.8701,-0.71],[1.8994,-1.42],[1.9292,-0.84]];
const t10HiBlue = [[1.96,-0.48],[2.022,0.22],[2.135,1.18],[2.202,0.22],[2.272,-0.41],[2.362,-0.26],[2.456,0.0],[2.513,0.0],[2.593,0.48],[2.708,-0.57],[2.78,0.22],[2.891,1.5],[3.006,0.54],[3.1,-0.41],[3.213,0.54],[3.325,-1.05],[3.484,-1.37],[3.65,-1.69],[3.766,-1.05],[3.884,-1.21],[4.026,1.02],[4.179,1.43],[4.298,0.54],[4.399,-0.73],[4.538,0.06],[4.645,-0.19],[4.792,0.48],[5.021,1.02],[5.091,0.48],[5.22,-1.85],[5.343,-1.63],[5.511,-0.26],[5.685,-0.57],[5.93,-0.1],[6.145,-0.1],[6.438,1.91],[6.642,0.54],[6.798,-0.26],[6.958,0.7],[7.235,-1.05],[7.428,-0.1],[7.674,-1.21],[8.066,1.34],[8.425,-0.26],[8.718,0.38],[9.064,0.22],[9.317,-0.35],[9.571,0.93],[9.798,0.6],[9.95,1.34],[10,1.2]];
const t10HiGreen = [[1.96,-0.48],[2.022,0.22],[2.135,1.18],[2.202,0.22],[2.272,-0.41],[2.362,-0.26],[2.456,0.0],[2.513,0.0],[2.593,0.29],[2.708,-0.5],[2.78,0.22],[2.891,1.5],[3.006,0.54],[3.1,-0.41],[3.213,0.45],[3.325,-0.95],[3.484,-1.25],[3.65,-1.55],[3.766,-1.05],[3.884,-1.1],[4.026,1.02],[4.179,1.43],[4.298,0.54],[4.399,-0.65],[4.538,0.06],[4.645,-0.1],[4.792,0.48],[5.021,0.9],[5.091,0.48],[5.22,-1.75],[5.343,-1.5],[5.511,-0.35],[5.685,-0.5],[5.93,-0.1],[6.145,-0.1],[6.438,1.91],[6.642,0.54],[6.798,0.22],[6.958,0.38],[7.235,-1.05],[7.428,-0.48],[7.674,-1.21],[8.066,1.34],[8.425,0.22],[8.718,0.38],[9.064,0.22],[9.317,-0.35],[9.571,0.7],[9.798,0.6],[9.95,1.0],[10,1.0]];

// ---------------- T11 ----------------
const t11Green = [[0.4,-0.8],[0.4108,-0.93],[0.4271,-1.0],[0.4405,-0.67],[0.4545,-0.54],[0.4652,-0.28],[0.474,-0.41],[0.4836,0.1],[0.4951,1.14],[0.5067,0.75],[0.5187,0.62],[0.5351,0.23],[0.5476,0.88],[0.5606,1.66],[0.5694,1.85],[0.5828,1.01],[0.5966,0.23],[0.6106,-0.54],[0.627,-1.26],[0.6428,-0.28],[0.66,-0.8],[0.6735,-1.97],[0.6861,-1.19],[0.7023,-1.06],[0.7133,-0.16],[0.7245,1.53],[0.7336,2.69],[0.7416,3.15],[0.7532,1.92],[0.771,0.49],[0.7892,-0.54],[0.8078,-1.58],[0.8243,-2.36],[0.8398,-1.84],[0.8596,-0.67],[0.8799,0.1],[0.9077,0.23],[0.9363,0.75],[0.9659,0.49],[0.9964,-0.8],[1.0199,-0.41],[1.0439,0.36],[1.0769,0.95],[1.1023,0.23],[1.1371,-1.19],[1.1639,-0.03],[1.1914,0.75],[1.2252,1.46],[1.258,0.88],[1.308,1.72],[1.3388,1.14],[1.3703,0.56],[1.4137,0.82],[1.447,-0.35],[1.4927,-1.26],[1.5398,-1.06],[1.5884,-0.28],[1.6386,0.62],[1.6773,0.1],[1.7168,-0.54],[1.771,-0.93],[1.827,0.1],[1.8847,-0.93],[1.9442,-1.06]];
const t11Blue = [[0.4,-0.67],[0.4057,-0.54],[0.414,-0.93],[0.4238,-0.96],[0.4317,-0.8],[0.4371,-0.16],[0.444,0.36],[0.4489,0.88],[0.4531,-0.54],[0.4566,-1.45],[0.4616,-0.67],[0.4666,0.23],[0.471,0.82],[0.4762,-0.67],[0.4814,-1.65],[0.4874,0.23],[0.4935,1.46],[0.4989,0.75],[0.5044,-0.16],[0.5107,0.88],[0.5171,0.49],[0.5227,-0.03],[0.5285,0.49],[0.5351,0.75],[0.5418,-0.54],[0.5476,0.49],[0.5536,1.14],[0.5606,1.27],[0.5668,1.72],[0.573,1.14],[0.5783,-0.03],[0.5838,0.62],[0.5901,-0.28],[0.5966,0.36],[0.6031,-0.8],[0.6097,-0.03],[0.6154,-0.54],[0.6231,-1.32],[0.6299,-2.1],[0.6368,-0.28],[0.6448,-0.67],[0.6529,0.88],[0.66,-0.28],[0.6672,-1.06],[0.6756,-1.71],[0.6829,-0.54],[0.6915,-0.03],[0.6991,-0.41],[0.7078,-1.9],[0.7156,-0.03],[0.7245,1.53],[0.7336,2.18],[0.7416,3.15],[0.7486,2.18],[0.7556,1.14],[0.7627,0.88],[0.771,-0.28],[0.7794,0.49],[0.7867,-2.1],[0.7953,-1.06],[0.804,-1.58],[0.8141,-1.97],[0.8243,-2.49],[0.8346,-1.45],[0.8437,-1.32],[0.853,-1.65],[0.8623,-0.41],[0.873,-0.03],[0.8827,0.49],[0.8937,0.88],[0.9035,-0.03],[0.9148,0.23],[0.9247,0.49],[0.9363,0.75],[0.948,0.1],[0.9584,0.36],[0.9704,0.1],[0.9841,-0.28],[0.9964,-1.06],[1.0057,-2.1],[1.0168,-0.28],[1.0278,-0.03],[1.0407,0.49],[1.0521,0.49],[1.0686,0.88],[1.0803,1.66],[1.0938,0.49],[1.1075,-0.03],[1.1214,-0.67],[1.1371,-1.19],[1.1514,-0.28],[1.1639,0.36],[1.1767,0.75],[1.1877,-0.28],[1.2007,-0.16],[1.2138,1.01],[1.2252,1.98],[1.2386,1.14],[1.2541,0.23],[1.2679,0.36],[1.2818,0.88],[1.2978,1.53],[1.31,1.92],[1.3243,1.14],[1.3388,0.49],[1.3534,0.36],[1.3703,0.62],[1.3853,0.49],[1.3983,-0.03],[1.4137,1.66],[1.4292,0.49],[1.447,-0.8],[1.4651,-1.45],[1.4812,-0.67],[1.4973,-0.41],[1.5161,-0.93],[1.5398,-0.8],[1.5639,-0.54],[1.5884,-0.03],[1.6083,0.49],[1.6259,1.27],[1.6437,0.75],[1.6643,0.23],[1.6851,0.49],[1.7035,-0.28],[1.7222,0.23],[1.7437,-0.8],[1.7655,-1.52],[1.7849,-0.67],[1.8044,0.23],[1.8213,0.1],[1.8413,0.75],[1.8643,-0.28],[1.8847,-1.19],[1.9142,-1.0],[1.9442,-1.06]];
const t11Red = [[0.4,-0.74],[0.4108,-0.93],[0.4238,-1.0],[0.4337,-0.67],[0.4385,-0.03],[0.4426,1.53],[0.4475,-0.03],[0.451,0.88],[0.4545,-1.84],[0.4594,-0.8],[0.4637,0.75],[0.4688,1.14],[0.474,-0.03],[0.4799,-1.97],[0.4859,-0.16],[0.4912,1.01],[0.4951,1.66],[0.5012,0.23],[0.5067,1.14],[0.5123,0.49],[0.5171,0.88],[0.5227,0.23],[0.5285,1.14],[0.5351,0.75],[0.5401,-0.67],[0.5451,1.14],[0.5519,0.49],[0.5571,1.53],[0.5633,1.66],[0.5694,1.53],[0.5756,0.49],[0.5819,-0.03],[0.5874,1.14],[0.5938,1.53],[0.5994,-0.16],[0.6059,0.49],[0.6126,-0.54],[0.6183,-1.06],[0.625,-0.16],[0.6309,-2.23],[0.6378,0.23],[0.6448,0.49],[0.6519,-0.54],[0.658,1.01],[0.6651,-1.06],[0.6724,-2.1],[0.6787,-1.32],[0.6861,0.23],[0.6947,0.36],[0.7023,-0.16],[0.7089,-1.97],[0.7167,0.23],[0.7234,1.01],[0.7302,2.31],[0.7382,2.82],[0.7439,2.56],[0.7509,1.53],[0.7579,1.66],[0.765,0.23],[0.7734,1.14],[0.7806,-0.67],[0.7867,-2.75],[0.7953,-1.32],[0.804,-0.93],[0.8116,-2.36],[0.8204,-1.32],[0.8294,-1.71],[0.8372,-0.93],[0.8464,-1.45],[0.8556,-1.84],[0.8636,-2.75],[0.8716,-0.41],[0.8799,-0.03],[0.8895,1.4],[0.8979,0.88],[0.9077,-0.28],[0.9176,0.49],[0.929,1.01],[0.9378,0.75],[0.948,-0.16],[0.9584,0.49],[0.9689,0.36],[0.981,0.1],[0.9933,-0.67],[1.0057,-2.29],[1.0168,-0.03],[1.0278,-0.41],[1.0407,0.49],[1.0521,0.36],[1.0636,0.88],[1.0769,1.72],[1.0887,0.49],[1.1023,0.36],[1.1144,-0.16],[1.1283,-0.67],[1.1407,-1.26],[1.1531,-0.54],[1.1639,0.1],[1.1748,1.01],[1.1859,-0.41],[1.2007,-0.41],[1.2157,1.4],[1.229,1.53],[1.2425,0.62],[1.258,0.23],[1.2738,0.75],[1.2877,1.53],[1.3019,1.92],[1.3181,1.01],[1.3326,0.49],[1.3492,0.1],[1.3661,0.75],[1.381,0.36],[1.3962,-0.16],[1.4114,1.98],[1.427,0.62],[1.4425,-0.8],[1.4605,-1.65],[1.4766,-0.41],[1.4927,-0.67],[1.5114,-0.93],[1.5303,-0.67],[1.5518,-0.67],[1.5761,-0.03],[1.5958,0.36],[1.6183,1.27],[1.6386,0.62],[1.6592,0.1],[1.6773,0.75],[1.6956,-0.41],[1.7168,0.23],[1.7383,-0.67],[1.76,-1.58],[1.7821,-0.54],[1.8016,0.23],[1.8213,0.49],[1.8413,1.01],[1.8643,-0.54],[1.8847,-1.19],[1.9142,-1.06]];
const t11HiBlue = [[1.96,-1.08],[2.022,-0.61],[2.118,-0.13],[2.219,0.61],[2.326,0.67],[2.437,0.67],[2.573,1.31],[2.675,0.35],[2.768,-0.93],[2.945,1.79],[3.076,-0.29],[3.125,-0.35],[3.299,0.41],[3.404,0.19],[3.539,0.61],[3.679,-0.35],[3.813,0.67],[4.038,-1.82],[4.264,-1.08],[4.468,-0.61],[4.594,-1.24],[4.792,-0.61],[5.06,-1.63],[5.22,-1.4],[5.401,0.03],[5.554,-1.88],[5.82,0.89],[6.003,0.19],[6.145,-1.5],[6.339,1.15],[6.488,1.31],[6.798,2.81],[7.068,2.58],[7.235,0.51],[7.428,-0.29],[7.76,2.1],[8.066,0.35],[8.321,0.51],[8.556,-1.72],[8.744,-3.8],[8.855,-2.2],[9.02,0.83],[9.23,-0.77],[9.497,0.51],[9.72,0.03],[10,-0.45]];
const t11HiGreen = [[1.96,-1.08],[2.022,-0.61],[2.118,-0.13],[2.219,0.61],[2.326,0.67],[2.437,0.67],[2.573,1.31],[2.675,0.35],[2.768,-0.77],[2.945,1.7],[3.076,-0.29],[3.125,-0.35],[3.299,0.35],[3.404,0.19],[3.539,0.55],[3.679,-0.3],[3.813,0.6],[4.038,-1.82],[4.264,-1.24],[4.468,-1.08],[4.594,-1.2],[4.792,-0.61],[5.06,-1.55],[5.22,-1.4],[5.401,-0.93],[5.554,-1.56],[5.82,0.85],[6.003,0.19],[6.145,-1.3],[6.339,1.15],[6.488,1.35],[6.85,3.16],[7.068,2.58],[7.235,0.51],[7.428,0.19],[7.76,2.05],[8.066,0.35],[8.321,0.83],[8.556,-1.6],[8.744,-3.0],[8.855,-2.0],[9.02,0.35],[9.23,-0.29],[9.497,0.45],[9.72,0.05],[10,-0.4]];

const panels = [
  { red: t6Red.concat(t6HiBlue), blue: t6Blue.concat(t6HiBlue), green: t6Green.concat(t6HiGreen) },
  { red: t7Red.concat(t7HiBlue), blue: t7Blue.concat(t7HiBlue), green: t7Green.concat(t7HiGreen) },
  { red: t8Red.concat(t8HiBlue), blue: t8Blue.concat(t8HiBlue), green: t8Green.concat(t8HiGreen) },
  { red: t9Red.concat(t9HiBlue), blue: t9Blue.concat(t9HiBlue), green: t9Green.concat(t9HiGreen) },
  { red: t10Red.concat(t10HiBlue), blue: t10Blue.concat(t10HiBlue), green: t10Green.concat(t10HiGreen) },
  { red: t11Red.concat(t11HiBlue), blue: t11Blue.concat(t11HiBlue), green: t11Green.concat(t11HiGreen) },
];

// ---------------- layout / style ----------------
const LEFT = 99;
const WIDTH = 690;
const TOP = 33.3;
const PH = 257.35;
const BLUE_LINE = '#4169e1';
const RED_LINE = '#ff0000';

const lg = (e: number) => Math.log10(e);
const toXY = (arr: number[][]) => arr.map(([e, v]) => [lg(e), v]);
const fmtNum = (v: number) => (v < 0 ? '\u2212' + Math.abs(v) : String(v));
const fmtE = (v: number) => {
  const t = majorTicks.find((m) => Math.abs(lg(m) - v) < 1e-6);
  return t === undefined ? '' : String(t);
};

function buildOption(): any {
  const grids: any[] = [];
  const xAxes: any[] = [];
  const yAxes: any[] = [];
  const series: any[] = [];
  panels.forEach((p, i) => {
    grids.push({ left: LEFT, width: WIDTH, top: TOP + i * PH, height: PH, show: true, borderColor: '#000', borderWidth: 1, backgroundColor: 'transparent' });
    const last = i === panels.length - 1;
    xAxes.push({
      type: 'value', gridIndex: i, min: lg(E_MIN), max: lg(E_MAX),
      axisLine: { show: true, onZero: false, lineStyle: { color: '#000', width: 1 } },
      splitLine: { show: false },
      axisTick: { show: true, inside: true, length: 6, customValues: majorTicks.map(lg), lineStyle: { color: '#000', width: 1 } },
      axisLabel: { show: last, customValues: majorTicks.map(lg), formatter: fmtE, margin: 4, fontSize: 14.5, color: '#000', fontFamily: FONT, showMinLabel: true, showMaxLabel: true },
      name: last ? 'Rest-frame Energy (keV)' : '', nameLocation: 'middle', nameGap: 21,
      nameTextStyle: { fontSize: 18, fontFamily: FONT, color: '#000' },
    });
    xAxes.push({
      type: 'value', gridIndex: i, min: lg(E_MIN), max: lg(E_MAX),
      axisLine: { show: false, onZero: false }, splitLine: { show: false },
      axisTick: { show: true, inside: true, length: 3, customValues: minorTicks.map(lg), lineStyle: { color: '#000', width: 0.8 } },
      axisLabel: { show: false },
    });
    const yt = i === 0 ? yTicksT6 : yTicksOther;
    yAxes.push({
      type: 'value', gridIndex: i, min: yMin[i], max: yMax[i],
      axisLine: { show: true, onZero: false, lineStyle: { color: '#000', width: 1 } },
      splitLine: { show: false },
      axisTick: { show: true, inside: true, length: 4, customValues: yt, lineStyle: { color: '#000' } },
      axisLabel: { customValues: yt, formatter: fmtNum, margin: 4, fontSize: 14.5, color: '#000', fontFamily: FONT },
    });
    const vlines: any[] = lineEnergies.map((e) => ({ xAxis: lg(e), lineStyle: { color: BLUE_LINE, type: [4, 3], width: 1.1, opacity: 0.9 } }));
    redLines[i].forEach((r) => vlines.push({ xAxis: lg(r.e), lineStyle: { color: RED_LINE, type: [5, 2.5], width: 2 } }));
    const areas: any[] = [[{ yAxis: -3, itemStyle: { color: '#dcdcdc' } }, { yAxis: 3 }]];
    redLines[i].forEach((r) => {
      if (r.band) areas.push([{ xAxis: lg(r.band[0]), itemStyle: { color: 'rgba(255,0,0,0.13)' } }, { xAxis: lg(r.band[1]) }]);
    });
    series.push({
      type: 'line', xAxisIndex: 2 * i, yAxisIndex: i, data: [[lg(E_MIN), 0], [lg(E_MAX), 0]],
      symbol: 'none', silent: true, lineStyle: { color: '#000', width: 1.4 },
      markArea: { silent: true, data: areas },
      markLine: { silent: true, symbol: ['none', 'none'], label: { show: false }, data: vlines },
    });
    const defs = [
      { d: p.red, c: '#a52a2a', w: 2.1, o: 0.85, s: 0.12 },
      { d: p.blue, c: '#0000ff', w: 1.6, o: 1, s: 0.4 },
      { d: p.green, c: '#008000', w: 1.4, o: 1, s: 0.5 },
    ];
    defs.forEach((df, k) => {
      series.push({
        name: seriesNames[k], type: 'line', xAxisIndex: 2 * i, yAxisIndex: i, data: toXY(df.d),
        symbol: 'none', showSymbol: false, smooth: df.s, silent: true,
        lineStyle: { color: df.c, width: df.w, opacity: df.o }, itemStyle: { color: df.c, opacity: df.o },
      });
    });
  });
  return {
    animation: false,
    backgroundColor: '#fff',
    textStyle: { fontFamily: FONT },
    grid: grids, xAxis: xAxes, yAxis: yAxes, series,
    legend: {
      data: seriesNames, left: 228, top: 259, padding: 0, itemWidth: 32, itemHeight: 2, itemGap: 31,
      icon: 'rect', selectedMode: false,
      formatter: (name: string) => `{g| }{i|σ}{s|v}{n| = ${name.replace(/[^0-9]/g, '')} km/s}`,
      textStyle: {
        fontFamily: FONT, fontSize: 15, color: '#000',
        rich: {
          g: { width: 11 },
          i: { fontStyle: 'italic', fontSize: 15, fontFamily: FONT, lineHeight: 20, verticalAlign: 'middle' },
          s: { fontStyle: 'italic', fontSize: 10.5, fontFamily: FONT, lineHeight: 20, verticalAlign: 'bottom' },
          n: { fontSize: 15, fontFamily: FONT, lineHeight: 20, verticalAlign: 'middle' },
        },
      },
    },
  };
}

function vLabel(chart: any, i: number, e: number, text: string, color: string, top: number, gap: number) {
  const x = chart.convertToPixel({ xAxisIndex: 2 * i }, lg(e));
  return {
    type: 'text', x: x - gap, y: top + 3, rotation: Math.PI / 2, z: 60, silent: true,
    style: { text, fill: color, fontSize: 16.5, fontFamily: FONT, align: 'right', verticalAlign: 'bottom' },
  };
}

function buildGraphic(chart: any) {
  const els: any[] = [];
  panels.forEach((_, i) => {
    const top = chart.convertToPixel({ yAxisIndex: i }, yMax[i]);
    const left = chart.convertToPixel({ xAxisIndex: 2 * i }, lg(E_MIN));
    els.push({ type: 'text', x: left + 6, y: top + 4, z: 60, silent: true, style: { text: panelNames[i], fontSize: 15.5, fontFamily: FONT, fill: '#000', align: 'left', verticalAlign: 'top' } });
    if (i === 0) lineEnergies.forEach((e, k) => els.push(vLabel(chart, 0, e, lineNames[k], BLUE_LINE, top, 1.5)));
    redLines[i].forEach((r) => els.push(vLabel(chart, i, r.e, r.name, RED_LINE, top, 3.5)));
  });
  const yc = chart.convertToPixel({ yAxisIndex: 2 }, yMin[2]);
  els.push({
    type: 'text', x: 47, y: yc, rotation: Math.PI / 2, z: 60, silent: true,
    style: { text: 'Significance ({i|σ})', fill: '#000', fontSize: 18, fontFamily: FONT, align: 'center', verticalAlign: 'middle', rich: { i: { fontStyle: 'italic', fontSize: 18, fontFamily: FONT, fill: '#000' } } },
  });
  return els;
}

export default function App() {
  const ref = useRef<HTMLDivElement>(null);
  useEffect(() => {
    if (!ref.current) return;
    const chart = echarts.init(ref.current, undefined, { renderer: 'svg' });
    chart.setOption(buildOption());
    chart.setOption({ graphic: buildGraphic(chart) });
    return () => chart.dispose();
  }, []);
  return <div ref={ref} style={{ position: 'absolute', left: 0, top: 0, width: 830, height: 1661, background: '#fff' }} />;
}
